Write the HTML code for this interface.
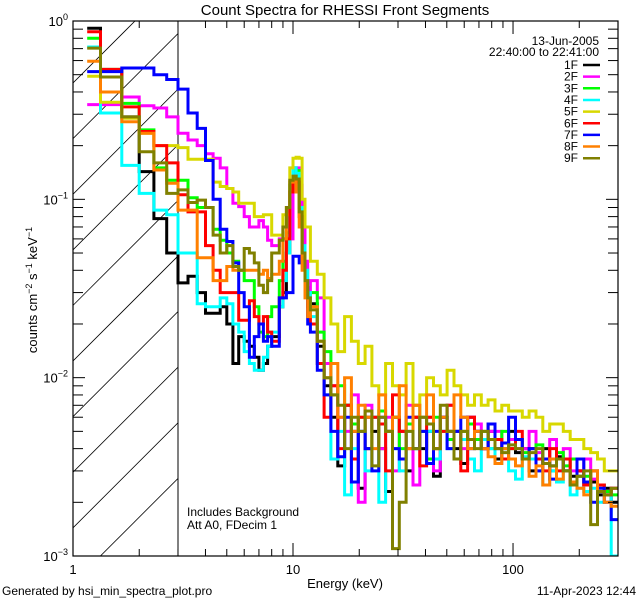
<!DOCTYPE html>
<html><head><meta charset="utf-8"><style>
html,body{margin:0;padding:0;background:#fff;}
svg{display:block;font-family:"Liberation Sans",sans-serif;}
</style></head><body>
<svg id="chart" width="640" height="600" viewBox="0 0 640 600" xmlns="http://www.w3.org/2000/svg">
<rect width="640" height="600" fill="#fff"/>
<defs>
<clipPath id="plotclip"><rect x="73" y="21" width="545" height="535"/></clipPath>
<clipPath id="hatchclip"><rect x="73" y="21" width="105" height="535"/></clipPath>
</defs>
<text x="345" y="15" font-size="15" text-anchor="middle">Count Spectra for RHESSI Front Segments</text>
<g id="hatch" clip-path="url(#hatchclip)"></g>
<line x1="178" y1="21" x2="178" y2="556" stroke="#000" stroke-width="1"/>
<g id="series" clip-path="url(#plotclip)"></g>
<rect x="73" y="21" width="545" height="535" fill="none" stroke="#000" stroke-width="1.2"/>
<g id="ticks"></g>
<text transform="translate(37,290) rotate(-90)" font-size="13" text-anchor="middle">counts cm<tspan dy="-5" font-size="9">−2</tspan><tspan dy="5"> s</tspan><tspan dy="-5" font-size="9">−1</tspan><tspan dy="5"> keV</tspan><tspan dy="-5" font-size="9">−1</tspan></text>
<text x="345" y="588" font-size="13" text-anchor="middle">Energy (keV)</text>
<text x="2" y="595" font-size="12">Generated by hsi_min_spectra_plot.pro</text>
<text x="636" y="595" font-size="12" text-anchor="end">11-Apr-2023 12:44</text>
<text x="187" y="516" font-size="12">Includes Background</text>
<text x="187" y="529" font-size="12">Att A0, FDecim 1</text>
<text x="599" y="45" font-size="12" text-anchor="end">13-Jun-2005</text>
<text x="599" y="56" font-size="12" text-anchor="end">22:40:00 to 22:41:00</text>
<g id="legend"></g>
</svg>
<script>
// values in units of 1e-3 counts cm^-2 s^-1 keV^-1
const segNames = ["1F","2F","3F","4F","5F","6F","7F","8F","9F"];
const segColors = ["#000000","#ff00ff","#00ff00","#00ffff","#d8d800","#ff0000","#0000ff","#ff8000","#808000"];
const lowEdges = [1.16,1.333,1.667,2,2.333,2.667,3,3.333,3.667,4,4.333,4.667,5,5.333,5.667,6,6.333,6.667,7,7.333,7.667,8,8.333,8.667,9,9.333,9.667,10,10.333,10.667,11,11.333,11.667,12];
const highEdgeCount = 45;
const s1F = [910,530,290,143,78,50,34,37,30,23,23,25,20,12,17,16,15,13,11,12,15,17,17,25,30,50,110,140,130,90,50,35,25,
 26,15,9,6,3.2,7,5,2.4,6,5,4,2.3,6,5,3,6,4,5,2.8,6,5,4,3.3,6,5,4,5,3.5,4,5,3.8,4,3,3.5,4,3.2,3.6,3,2.8,3,2.5,2.6,2.2,2.4,2];
const s2F = [340,340,375,335,325,290,235,215,200,180,170,150,115,95,91,80,70,70,76,70,59,55,55,60,60,60,60,130,150,120,80,45,31,
 35,28,12,9,6,5,8,2.0,7,6,4,6,3,5,7,2.5,6,6,3,6,7,5,4,6,5.5,4,5,5,3.5,4.5,4,4,5,3.8,3.3,4.5,3.5,4,3,2.8,3.5,2.7,2.5,2.2,2.4];
const s3F = [800,535,345,245,150,128,128,102,90,90,68,59,50,45,40,35,35,25,18,17,22,25,25,35,45,65,120,150,145,90,50,35,28,
 30,18,14,8,9,7,5.5,6,4,6,6.5,5,6,4,5.5,7,5,3.5,6,5,4.5,5,5,5.5,4.5,5,4,4.5,5,4,4.5,3.8,4,4.2,3.5,3,3.8,3.2,3.5,2.8,2.8,3,2.5,2.3,2.2];
const s4F = [715,305,155,108,87,82,50,50,26,25,25,28,26,20,18,14,12,11,11,13,15,18,18,25,35,50,120,150,140,90,55,40,30,
 22,12,8,3.5,5,2.2,4,5,3,6,2,5,4,3,5,4,6,5,3.5,5,4,5,4.5,3.5,3,4.5,4,3.3,4,3,2.7,3.6,3.5,3,2.5,3,2.6,3,2.2,2.4,2.3,2.4,2,2.2,1.0];
const s5F = [490,350,285,235,200,200,195,168,168,168,125,118,115,110,95,95,95,80,80,82,82,63,63,63,82,82,150,170,172,170,100,70,70,
 45,38,28,20,14,22,16,12,15,9,8,12,9,8,12,7,8,10,9,8,11,9,8,7,8,7,7.5,6.5,7,6.5,6.5,6,6.5,6,5,5.5,5.5,5,4.5,4.5,4,3.8,3.5,3,3];
const s6F = [870,535,330,240,200,160,106,85,85,55,40,30,30,30,21,21,27,22,20,22,18,16,16,28,40,60,110,130,125,80,45,30,22,
 20,12,6,9,4,7,3.5,6,4,6,5.5,3,8,5,4,6,3.2,6,4,5,7,5,3,6,5,4,5.5,4.5,3.5,4,5,3.5,4,3.5,3,4,3,3.5,2.6,3,2.5,3,2.5,2.2,2.4];
const s7F = [520,520,545,545,500,470,415,305,250,165,100,68,58,44,30,25,13,17,20,16,17,15,15,28,28,30,30,48,48,44,44,32,20,
 18,11,8,5,3.6,6,2.6,5,4,3,6,5,4,3.5,6,4,5,3.3,5,6,4,5,6,4,5,4,5.5,4,4.3,6,4.5,3.5,4,3,3.5,2.7,3.5,3,2.5,3.5,2.6,2,2.4,2,1.6];
const s8F = [595,400,272,235,146,123,87,87,47,47,35,35,42,40,40,40,40,40,38,40,36,38,38,45,60,90,125,130,110,70,40,28,22,
 25,16,10,12,6,10,5,7,6,4,8,5,6,9,4,7,6,8,4,6,5,8,6,4,5,4,3.6,3.3,4,3.5,3.2,3.5,2.8,3.2,2.5,3.5,2.7,3,2.6,2.4,2.2,3,2.3,2.0,1.9];
const s9F = [705,485,290,185,160,108,113,96,99,90,63,50,55,42,40,53,50,44,33,30,35,50,50,59,70,90,128,135,130,85,50,35,28,
 24,16,10,8,7,4,6,5,6.5,3.2,6,5,1.1,2,5,4,6,5.5,4,7,5,3.5,5,4.5,4,5,4.5,4,3.8,4.2,4,3.5,3.8,4,3.3,3.2,3.5,3,2.5,2.8,3,1.5,2.3,2.2,2.4];
const seriesValues = [s1F,s2F,s3F,s4F,s5F,s6F,s7F,s8F,s9F];
const xTickLabels = ["1","10","100"];
const yTickExps = ["0","−1","−2","−3"];

const NS = "http://www.w3.org/2000/svg";
const X0 = 73, X1 = 618, Y0 = 21, Y1 = 556;
const XMIN = 1, XMAX = 300, YMIN = 1e-3, YMAX = 1;
function xs(e){ return X0 + (X1 - X0) * Math.log10(e / XMIN) / Math.log10(XMAX / XMIN); }
function ys(v){ return Y0 + (Y1 - Y0) * Math.log10(YMAX / v) / Math.log10(YMAX / YMIN); }

const edges = lowEdges.slice();
for (let i = 1; i <= highEdgeCount; i++) edges.push(12 * Math.pow(XMAX / 12, i / highEdgeCount));

function mk(tag, attrs, parent){ const el = document.createElementNS(NS, tag); for (const k in attrs) el.setAttribute(k, attrs[k]); parent.appendChild(el); return el; }

const hatch = document.getElementById("hatch");
for (let c = 156; c <= 712; c += 55.6) {
  const ln = mk("line", {x1: X0, y1: c - X0, x2: c - Y0, y2: Y0, stroke: "#000", "stroke-width": 0.8}, hatch);
  
  
}
const sg = document.getElementById("series");
seriesValues.forEach((vals, si) => {
  let d = "";
  for (let b = 0; b < vals.length && b + 1 < edges.length; b++) {
    const y = ys(vals[b] / 1000).toFixed(1);
    const xa = xs(edges[b]).toFixed(1), xb = xs(edges[b + 1]).toFixed(1);
    d += (b === 0 ? "M" + xa + "," + y : "L" + xa + "," + y) + "H" + xb;
  }
  const p = mk("path", {d: d, fill: "none", stroke: segColors[si], "stroke-width": 3, "stroke-linejoin": "miter"}, sg);
  
  
});
const tg = document.getElementById("ticks");
function tick(x1, y1, x2, y2){ const t = mk("line", {x1, y1, x2, y2, stroke: "#000", "stroke-width": 1}, tg);
  
   }
for (let dec = 1; dec <= 100; dec *= 10) {
  for (let m = 1; m <= 9; m++) {
    const e = dec * m; if (e > XMAX) break;
    const x = xs(e), L = m === 1 ? 13 : 7;
    tick(x, Y1, x, Y1 - L); tick(x, Y0, x, Y0 + L);
  }
}
xTickLabels.forEach((lab, i) => {
  const t = mk("text", {x: xs(Math.pow(10, i)), y: 574, "font-size": 13, "text-anchor": "middle"}, tg);
  t.textContent = lab;
  
  
});
for (let p = -3; p <= 0; p++) {
  for (let m = 1; m <= 9; m++) {
    const v = Math.pow(10, p) * m; if (v > YMAX) break;
    const y = ys(v), L = m === 1 ? 12 : 10;
    tick(X0, y, X0 + L, y); tick(X1, y, X1 - L, y);
  }
}
yTickExps.forEach((ex, i) => {
  const y = ys(Math.pow(10, -i));
  const t = mk("text", {x: 68, y: y + 5, "font-size": 13, "text-anchor": "end"}, tg);
  
  
  const a = mk("tspan", {}, t); a.textContent = "10";
  const b = mk("tspan", {dy: -6, "font-size": 9}, t); b.textContent = ex;
});
const lg = document.getElementById("legend");
segNames.forEach((n, i) => {
  const y = 65 + 11.65 * i;
  const t = mk("text", {x: 578, y: y + 4, "font-size": 12, "text-anchor": "end"}, lg);
  t.textContent = n;
  
  
  const l = mk("line", {x1: 583, y1: y, x2: 600, y2: y, stroke: segColors[i], "stroke-width": 2.5}, lg);
  
  
});
</script>
</body></html>
